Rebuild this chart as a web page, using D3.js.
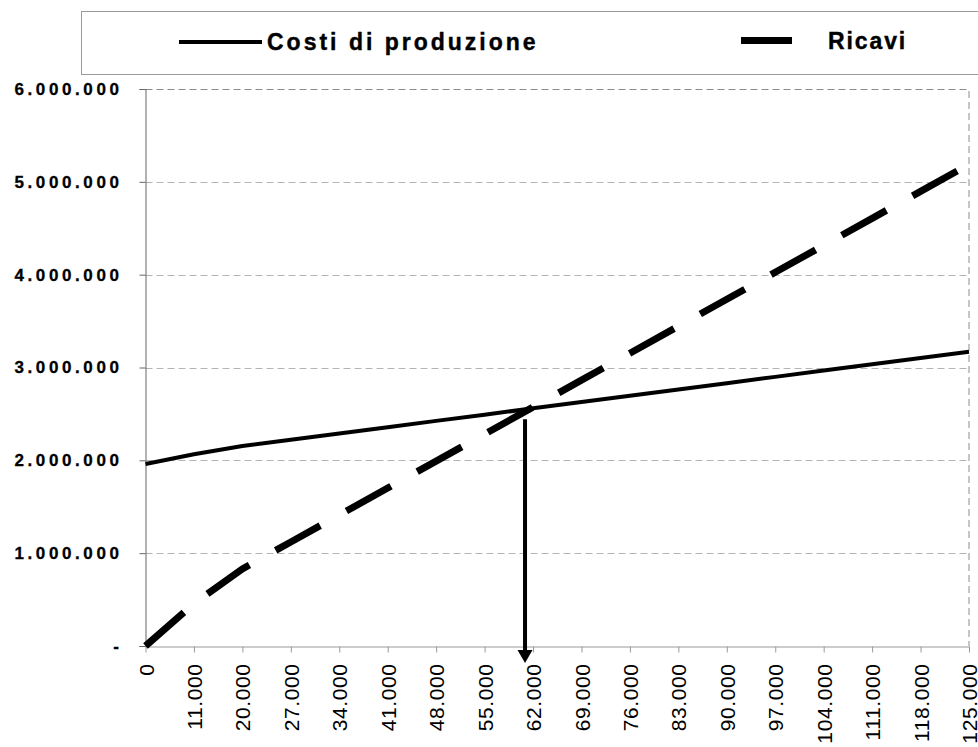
<!DOCTYPE html>
<html>
<head>
<meta charset="utf-8">
<script src="https://cdn.jsdelivr.net/npm/d3@7"></script>
<style>
  html, body { margin: 0; padding: 0; background: #fff; }
  svg { display: block; font-family: "Liberation Sans", Arial, sans-serif; }
</style>
</head>
<body>
<svg id="chart" width="978" height="747"></svg>
<script>
// Quantità prodotte (categorie dell'asse X)
const categories = ["0", "11.000", "20.000", "27.000", "34.000", "41.000", "48.000", "55.000", "62.000",
  "69.000", "76.000", "83.000", "90.000", "97.000", "104.000", "111.000", "118.000", "125.000"];

// Costi di produzione (€)
const costi = [1960000, 2066000, 2154000, 2221000, 2289000, 2357000, 2425000, 2492000, 2560000,
  2628000, 2696000, 2763000, 2831000, 2899000, 2967000, 3034000, 3102000, 3170000];

// Ricavi (€)
const ricavi = [0, 456500, 830000, 1120500, 1411000, 1701500, 1992000, 2282500, 2573000,
  2863500, 3154000, 3444500, 3735000, 4025500, 4316000, 4606500, 4897000, 5187500];

// Tacche dell'asse Y
const yTicks = [0, 1000000, 2000000, 3000000, 4000000, 5000000, 6000000];

// Punto di pareggio indicato dalla freccia
const breakEvenCategory = "62.000";

const seriesNames = ["Costi di produzione", "Ricavi"];

const svg = d3.select("#chart");

const x = d3.scalePoint().domain(categories).range([145.5, 969]);
const y = d3.scaleLinear().domain([0, 6000000]).range([646, 89]);

const itLocale = d3.formatLocale({ decimal: ",", thousands: ".", grouping: [3], currency: ["€", ""] });
const fmt = itLocale.format(",.0f");
const yFmt = v => v === 0 ? "-" : fmt(v);

// Riquadro della legenda
svg.append("rect")
  .attr("x", 81.5).attr("y", 11.5)
  .attr("width", 910).attr("height", 63)
  .attr("fill", "none").attr("stroke", "#9a9a9a").attr("stroke-width", 1);

const legend = svg.append("g");
legend.append("line")
  .attr("x1", 179).attr("x2", 262).attr("y1", 42).attr("y2", 42)
  .attr("stroke", "#000").attr("stroke-width", 4);
legend.append("text")
  .attr("x", 267).attr("y", 50)
  .attr("font-size", 23).attr("font-weight", "bold")
  .attr("letter-spacing", "3px")
  .attr("stroke", "#000").attr("stroke-width", 0.4)
  .text(seriesNames[0]);
legend.append("line")
  .attr("x1", 741).attr("x2", 792).attr("y1", 40.5).attr("y2", 40.5)
  .attr("stroke", "#000").attr("stroke-width", 7);
legend.append("text")
  .attr("x", 828).attr("y", 49)
  .attr("font-size", 23).attr("font-weight", "bold")
  .attr("letter-spacing", "1.9px")
  .attr("stroke", "#000").attr("stroke-width", 0.4)
  .text(seriesNames[1]);

// Griglia orizzontale tratteggiata
svg.append("g")
  .selectAll("line")
  .data(yTicks.filter(v => v > 0 && v < 6000000))
  .join("line")
  .attr("x1", x.range()[0]).attr("x2", x.range()[1])
  .attr("y1", d => Math.round(y(d)) + 0.5).attr("y2", d => Math.round(y(d)) + 0.5)
  .attr("stroke", "#b4b4b4").attr("stroke-width", 1)
  .attr("stroke-dasharray", "7,4");

// Bordo superiore e destro dell'area del grafico
svg.append("path")
  .attr("d", `M${x.range()[0]},${y(6000000) + 0.5}H${x.range()[1]}V${y(0)}`)
  .attr("fill", "none").attr("stroke", "#8c8c8c").attr("stroke-width", 1)
  .attr("stroke-dasharray", "7,4");

// Asse Y
const yAxis = svg.append("g")
  .attr("transform", `translate(${x.range()[0]},0)`)
  .call(d3.axisLeft(y).tickValues(yTicks).tickFormat(yFmt).tickSize(6).tickPadding(17));
yAxis.select(".domain").attr("stroke", "#666");
yAxis.selectAll(".tick line").attr("stroke", "#666");
yAxis.selectAll(".tick text")
  .attr("font-family", "Liberation Sans, Arial, sans-serif")
  .attr("font-size", 17).attr("font-weight", "bold")
  .attr("letter-spacing", "3.6px")
  .attr("stroke", "#000").attr("stroke-width", 0.3)
  .attr("fill", "#000");

// Asse X
const xAxis = svg.append("g")
  .attr("transform", `translate(0,${y(0) + 0.5})`)
  .call(d3.axisBottom(x).tickSize(6).tickSizeOuter(0));
xAxis.select(".domain").attr("stroke", "#9a9a9a");
xAxis.selectAll(".tick line").attr("stroke", "#9a9a9a");
xAxis.selectAll(".tick text")
  .attr("font-family", "Liberation Sans, Arial, sans-serif")
  .attr("font-size", 21)
  .attr("letter-spacing", "0.6px")
  .attr("fill", "#000")
  .attr("text-anchor", "end")
  .attr("transform", "rotate(-90)")
  .attr("x", -17).attr("y", 0).attr("dy", "0.36em");

// Linee delle serie
const line = d3.line()
  .x((d, i) => x(categories[i]))
  .y(d => y(d));

svg.append("path")
  .datum(ricavi)
  .attr("d", line)
  .attr("fill", "none").attr("stroke", "#000").attr("stroke-width", 7)
  .attr("stroke-dasharray", "51,30").attr("stroke-linecap", "butt");

svg.append("path")
  .datum(costi)
  .attr("d", line)
  .attr("fill", "none").attr("stroke", "#000").attr("stroke-width", 4)
  .attr("stroke-linejoin", "round");

// Freccia verso la quantità di pareggio
const bi = categories.indexOf(breakEvenCategory);
const ax = x(breakEvenCategory) - 8;
const ayTop = y(costi[bi]) + 11;
const ayTip = y(0) + 17;
svg.append("line")
  .attr("x1", ax).attr("x2", ax)
  .attr("y1", ayTop).attr("y2", ayTip - 11)
  .attr("stroke", "#000").attr("stroke-width", 4);
svg.append("path")
  .attr("d", `M${ax - 7.5},${ayTip - 13}L${ax + 7.5},${ayTip - 13}L${ax},${ayTip}Z`)
  .attr("fill", "#000");
</script>
</body>
</html>
